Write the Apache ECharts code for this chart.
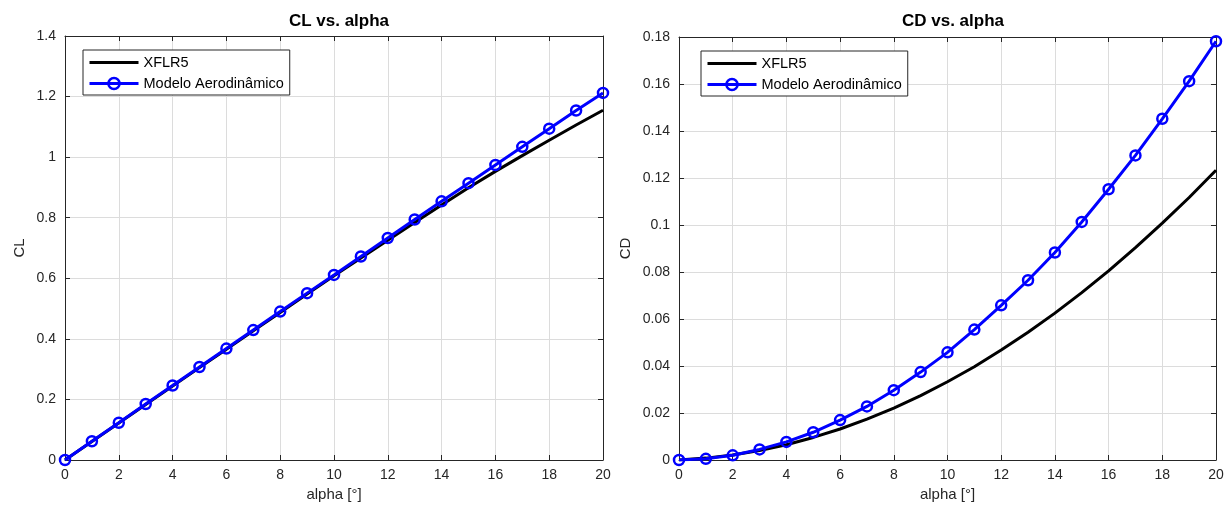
<!DOCTYPE html>
<html><head><meta charset="utf-8">
<script src="https://cdn.jsdelivr.net/npm/echarts@6/dist/echarts.min.js"></script>
<style>html,body{margin:0;padding:0;background:#fff}#c{width:1231px;height:513px}</style>
</head><body><div id="c"></div>
<script>
const alpha = [0,1,2,3,4,5,6,7,8,9,10,11,12,13,14,15,16,17,18,19,20];
const clXflr = [0,0.061,0.122,0.183,0.244,0.305,0.366,0.427,0.487,0.548,0.608,0.667,0.726,0.784,0.842,0.899,0.953,1.005,1.056,1.106,1.155];
const clModel = [0,0.062,0.123,0.185,0.246,0.307,0.368,0.429,0.490,0.551,0.611,0.672,0.733,0.794,0.854,0.914,0.974,1.034,1.094,1.154,1.212];
const cdXflr = [0,0.0008,0.0021,0.0040,0.0065,0.0096,0.0132,0.0174,0.0221,0.0274,0.0333,0.0397,0.0468,0.0544,0.0625,0.0712,0.0805,0.0904,0.1008,0.1117,0.1233];
const cdModel = [0,0.0005,0.0020,0.0045,0.0077,0.0118,0.0170,0.0228,0.0297,0.0374,0.0458,0.0555,0.0658,0.0765,0.0883,0.1013,0.1152,0.1296,0.1452,0.1612,0.1782];
const yTicksCL = [0,0.2,0.4,0.6,0.8,1,1.2,1.4];
const yTicksCD = [0,0.02,0.04,0.06,0.08,0.1,0.12,0.14,0.16,0.18];
const xTicks = [0,2,4,6,8,10,12,14,16,18,20];

const FONT = 'Liberation Sans, Arial, sans-serif';
const TXT = '#262626';
const BLUE = '#0000ff';
const pairs = (ys) => alpha.map((a,i)=>[a, ys[i]]);
const fmt = v => String(+(+v).toFixed(4));

function xAx(gi, bottom){
  return {
    type:'value', gridIndex:gi, min:xTicks[0], max:xTicks[xTicks.length-1], interval:xTicks[1]-xTicks[0],
    position: bottom ? 'bottom':'top',
    name: bottom ? 'alpha [°]' : '', nameLocation:'middle', nameGap:26,
    nameTextStyle:{fontFamily:FONT, fontSize:15, color:TXT},
    axisLine:{show:true, onZero:false, lineStyle:{color:TXT, width:1}},
    axisTick:{show:true, inside:true, length:5, lineStyle:{color:TXT}},
    axisLabel:{show:bottom, fontFamily:FONT, fontSize:14, color:TXT, margin:8, formatter:fmt},
    splitLine:{show:bottom, lineStyle:{color:'#dcdcdc', width:1}}
  };
}
function yAx(gi, left, ticks, name, gap){
  return {
    type:'value', gridIndex:gi, min:ticks[0], max:ticks[ticks.length-1], interval:ticks[1]-ticks[0],
    position: left ? 'left':'right',
    name: left ? name : '', nameLocation:'middle', nameGap:gap, nameRotate:90,
    nameTextStyle:{fontFamily:FONT, fontSize:15, color:TXT},
    axisLine:{show:true, onZero:false, lineStyle:{color:TXT, width:1}},
    axisTick:{show:true, inside:true, length:5, lineStyle:{color:TXT}},
    axisLabel:{show:left, fontFamily:FONT, fontSize:14, color:TXT, margin:9, formatter:fmt},
    splitLine:{show:left, lineStyle:{color:'#dcdcdc', width:1}}
  };
}
function blackSeries(xi, yi, data){
  return {name:'XFLR5', type:'line', xAxisIndex:xi, yAxisIndex:yi, data:data, showSymbol:false, symbol:'none',
    lineStyle:{color:'#000', width:3}, itemStyle:{color:'#000'}, animation:false, z:3};
}
function blueSeries(xi, yi, data){
  return {name:'Modelo Aerodinâmico', type:'line', xAxisIndex:xi, yAxisIndex:yi, data:data, symbol:'circle', symbolSize:10,
    showSymbol:true, lineStyle:{color:BLUE, width:3}, itemStyle:{color:'rgba(255,255,255,0)', borderColor:BLUE, borderWidth:2.5},
    animation:false, z:4};
}
function legend(left, top){
  return {left:left, top:top, orient:'vertical', backgroundColor:'#fff', borderColor:TXT, borderWidth:1,
    padding:[5,6,4,5], itemGap:6, itemWidth:49, itemHeight:14, borderRadius:0,
    textStyle:{fontFamily:FONT, fontSize:14.5, color:'#000'},
    data:[
      {name:'XFLR5', itemStyle:{color:'rgba(0,0,0,0)', borderWidth:0, opacity:0}, lineStyle:{width:3, color:'#000'}},
      {name:'Modelo Aerodinâmico', lineStyle:{width:3, color:BLUE}, itemStyle:{color:'rgba(255,255,255,0)', borderColor:BLUE, borderWidth:2.5}}
    ], selectedMode:false};
}

const chart = echarts.init(document.getElementById('c'), null, {renderer:'canvas'});
chart.setOption({
  backgroundColor:'#fff',
  animation:false,
  title:[
    {text:'CL vs. alpha', left:334, top:8, textAlign:'center', textStyle:{fontFamily:FONT, fontSize:17, fontWeight:'bold', color:'#000'}},
    {text:'CD vs. alpha', left:948, top:8, textAlign:'center', textStyle:{fontFamily:FONT, fontSize:17, fontWeight:'bold', color:'#000'}}
  ],
  legend:[legend(83,50), legend(701,51)],
  grid:[
    {left:65, right:628, top:36, bottom:53, containLabel:false},
    {left:679, right:15, top:37, bottom:53, containLabel:false}
  ],
  xAxis:[xAx(0,true), xAx(0,false), xAx(1,true), xAx(1,false)],
  yAxis:[yAx(0,true,yTicksCL,'CL',38), yAx(0,false,yTicksCL,'',0), yAx(1,true,yTicksCD,'CD',46), yAx(1,false,yTicksCD,'',0)],
  series:[
    blackSeries(0,0,pairs(clXflr)),
    blueSeries(0,0,pairs(clModel)),
    blackSeries(2,2,pairs(cdXflr)),
    blueSeries(2,2,pairs(cdModel))
  ]
});
</script></body></html>
